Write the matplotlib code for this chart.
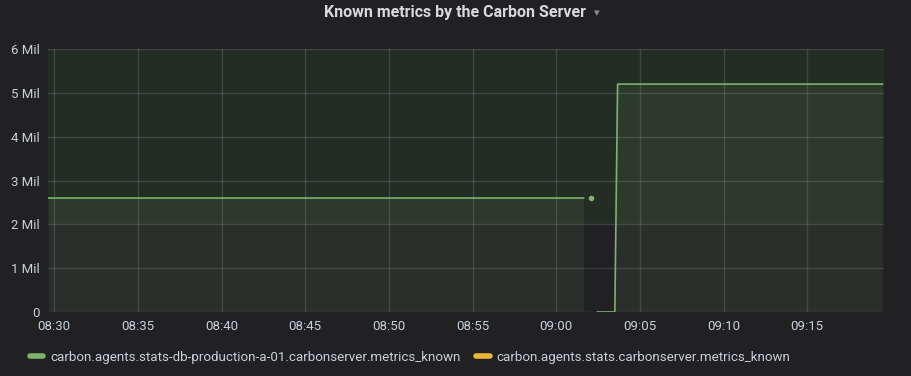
import numpy as np
import pandas as pd
import matplotlib
matplotlib.use("Agg")
import matplotlib.pyplot as plt
import matplotlib.dates as mdates
from matplotlib.lines import Line2D

# series: carbon.agents.stats-db-production-a-01 (NaN = no data)
times = ["08:29:40", "09:01:38", "09:01:50", "09:02:05", "09:02:20",
         "09:02:28", "09:03:30", "09:03:40", "09:19:30"]
values = [2.6e6, 2.6e6, np.nan, 2.6e6, np.nan, 0, 0, 5.2e6, 5.2e6]

threshold = 2e6
y_ticks = [0, 1e6, 2e6, 3e6, 4e6, 5e6, 6e6]
y_labels = ["0", "1 Mil", "2 Mil", "3 Mil", "4 Mil", "5 Mil", "6 Mil"]
x_range = ("08:29:38", "09:19:35")

series_names = ["carbon.agents.stats-db-production-a-01.carbonserver.metrics_known",
                "carbon.agents.stats.carbonserver.metrics_known"]
series_colors = ["#7eb26d", "#eab839"]

BG = "#212124"
TEXT = "#c7d0d9"

plt.rcParams["font.family"] = ["Roboto", "DejaVu Sans"]

t = pd.to_datetime(["2024-01-01 " + s for s in times])
xlim = pd.to_datetime(["2024-01-01 " + s for s in x_range])
v = np.array(values, dtype=float)

fig = plt.figure(figsize=(9.12, 3.76), dpi=100, facecolor=BG)
ax = fig.add_axes([48 / 912, 64 / 376, 836 / 912, 263 / 376], facecolor=BG)

# threshold band
ax.axhspan(threshold, 6e6, color="#32ac2d", alpha=0.09, lw=0, zorder=1)

# series fill + line
ax.fill_between(t, 0, v, color=series_colors[0], alpha=0.1, lw=0, zorder=2)
ax.plot(t, v, color=series_colors[0], lw=1.2, zorder=4)
# isolated point
iso = np.isnan(np.r_[np.nan, v[:-1]]) & np.isnan(np.r_[v[1:], np.nan]) & ~np.isnan(v)
ax.plot(t[iso], v[iso], "o", color=series_colors[0], ms=3, zorder=4)

ax.set_xlim(xlim[0], xlim[1])
ax.set_ylim(0, 6e6)
ax.set_yticks(y_ticks)
ax.set_yticklabels(y_labels)
ax.xaxis.set_major_locator(mdates.MinuteLocator(byminute=range(0, 60, 5)))
ax.xaxis.set_major_formatter(mdates.DateFormatter("%H:%M"))

ax.grid(True, color="#ffffff", alpha=0.13, lw=1, zorder=3)
ax.set_axisbelow(False)
for s in ax.spines.values():
    s.set_visible(False)
ax.tick_params(axis="both", length=0, colors=TEXT, labelsize=9.5)
ax.tick_params(axis="y", pad=6)
ax.tick_params(axis="x", pad=6)

fig.text(455 / 912, 1 - 12 / 376, "Known metrics by the Carbon Server",
         ha="center", va="center", color="#d8d9da", fontsize=11.5, fontweight="bold")
fig.text(597 / 912, 1 - 13 / 376, "\u25be", ha="center", va="center",
         color="#8e8e8e", fontsize=8, family="DejaVu Sans")

handles = [Line2D([], [], color=c, lw=4, solid_capstyle="round") for c in series_colors]
fig.legend(handles, series_names, loc="center left",
           bbox_to_anchor=(18 / 912, 1 - 357 / 376), ncol=2, frameon=False,
           handlelength=1.0, handletextpad=0.5, columnspacing=1.2,
           fontsize=9.6, labelcolor=TEXT)

fig.savefig("out.png", dpi=100, facecolor=BG)
